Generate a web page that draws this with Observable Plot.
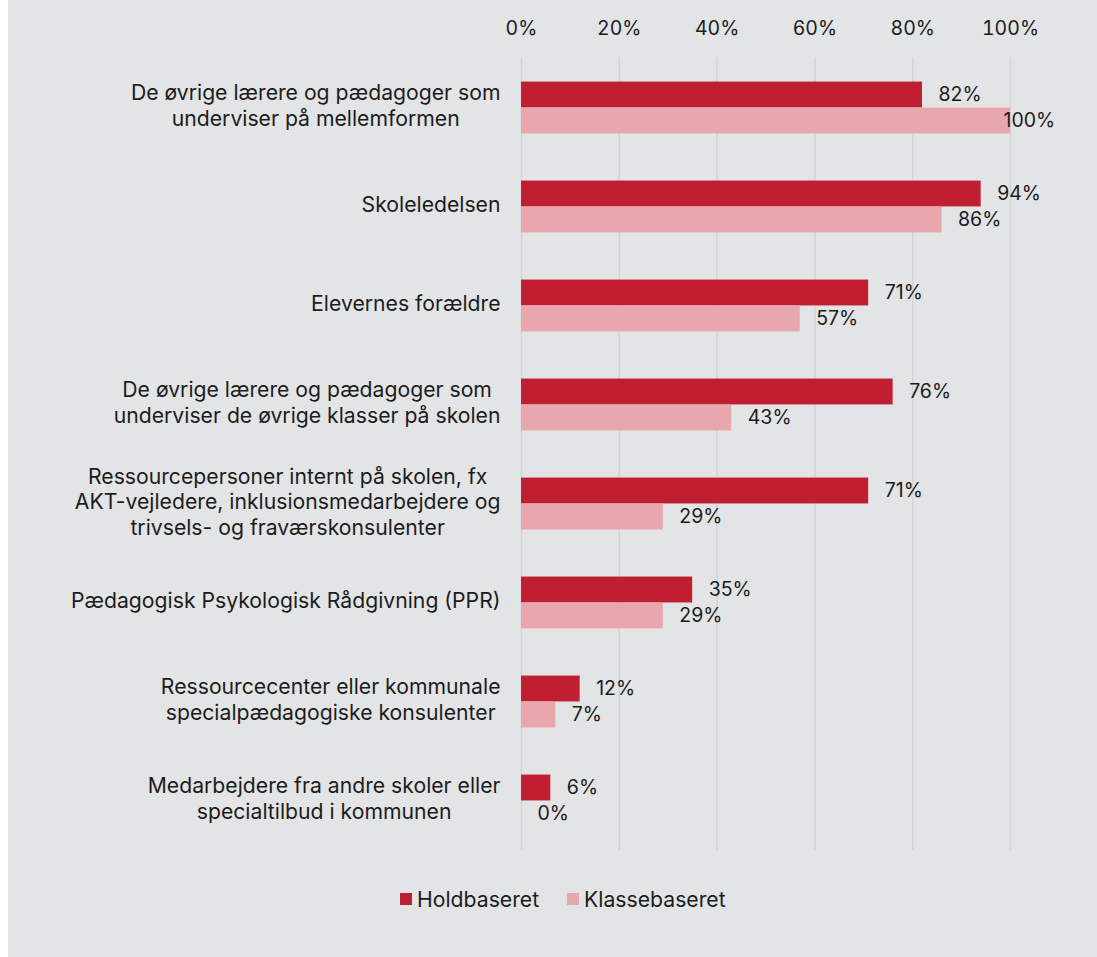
<!DOCTYPE html>
<html>
<head>
<meta charset="utf-8">
<script src="https://cdn.jsdelivr.net/npm/d3@7"></script>
<script src="https://cdn.jsdelivr.net/npm/@observablehq/plot@0.6"></script>
<style>
  html, body { margin: 0; padding: 0; background: #ffffff; }
  #panel { position: absolute; left: 8px; top: 0; width: 1089px; height: 957px; background: #e3e4e6; font-family: Inter, "Noto Sans", sans-serif; color: #1c1c1c; }
  #chart { position: absolute; left: 0; top: 0; }
  #legend { position: absolute; top: 886px; left: 392px; display: flex; align-items: center; font-size: 21.2px; }
  .item { display: flex; align-items: center; margin-right: 28px; }
  .sw { width: 12px; height: 12px; margin-right: 5px; }
</style>
</head>
<body>
<div id="panel">
  <div id="chart"></div>
  <div id="legend"></div>
</div>
<script>
const categories = [
  "De øvrige lærere og pædagoger som\nunderviser på mellemformen",
  "Skoleledelsen",
  "Elevernes forældre",
  "De øvrige lærere og pædagoger som\nunderviser de øvrige klasser på skolen",
  "Ressourcepersoner internt på skolen, fx\nAKT-vejledere, inklusionsmedarbejdere og\ntrivsels- og fraværskonsulenter",
  "Pædagogisk Psykologisk Rådgivning (PPR)",
  "Ressourcecenter eller kommunale\nspecialpædagogiske konsulenter",
  "Medarbejdere fra andre skoler eller\nspecialtilbud i kommunen"
];
const holdbaseret = [82, 94, 71, 76, 71, 35, 12, 6];
const klassebaseret = [100, 86, 57, 43, 29, 29, 7, 0];
const seriesNames = ["Holdbaseret", "Klassebaseret"];
const seriesColors = ["#c01f32", "#e8a7ac"];
const xTicks = [0, 20, 40, 60, 80, 100];

const holdRows = categories.map((c, i) => ({category: c, value: holdbaseret[i]}));
const klasseRows = categories.map((c, i) => ({category: c, value: klassebaseret[i]}));

const width = 1089, height = 870, marginTop = 57, marginBottom = 20, marginLeft = 513, marginRight = 87;
const band = (height - marginTop - marginBottom) / categories.length;
const barH = 26;
const fmt = d => d + "%";
const numSize = 19.5;
const labSize = 21.2;

const chart = Plot.plot({
  width, height, marginTop, marginBottom, marginLeft, marginRight,
  style: {background: "transparent", fontFamily: "Inter, 'Noto Sans', sans-serif", fontSize: "19px", color: "#1c1c1c", overflow: "visible"},
  x: {domain: [0, 100]},
  y: {domain: categories, padding: 0},
  marks: [
    Plot.gridX(xTicks, {stroke: "#d3d4d6", strokeOpacity: 1, strokeWidth: 1.5}),
    Plot.axisX(xTicks, {anchor: "top", tickSize: 0, tickPadding: 23, tickFormat: fmt, label: null, fontSize: numSize}),
    Plot.axisY({tickSize: 0, tickPadding: 21, label: null, lineHeight: 1.2, fontSize: labSize, dy: -3}),
    Plot.barX(holdRows, {x: "value", y: "category", fill: seriesColors[0], insetTop: band / 2 - barH, insetBottom: band / 2}),
    Plot.barX(klasseRows, {x: "value", y: "category", fill: seriesColors[1], insetTop: band / 2, insetBottom: band / 2 - barH}),
    Plot.text(holdRows, {x: "value", y: "category", text: d => fmt(d.value), dy: -barH / 2, dx: 16, textAnchor: "start", fontSize: numSize, fill: "#1c1c1c"}),
    Plot.text(klasseRows.filter(d => d.value < 100), {x: "value", y: "category", text: d => fmt(d.value), dy: barH / 2, dx: 16, textAnchor: "start", fontSize: numSize, fill: "#1c1c1c"}),
    Plot.text(klasseRows.filter(d => d.value >= 100), {x: "value", y: "category", text: d => fmt(d.value), dy: barH / 2, dx: -7, textAnchor: "start", fontSize: numSize, fill: "#1c1c1c"})
  ]
});
document.getElementById("chart").appendChild(chart);

// Center multi-line y labels within their block (right edge kept at the axis padding)
const yg = chart.querySelector('g[aria-label="y-axis tick label"]');
if (yg) {
  yg.querySelectorAll("text").forEach(t => {
    const spans = t.querySelectorAll("tspan");
    if (spans.length > 1) {
      const w = t.getBBox().width;
      t.setAttribute("text-anchor", "middle");
      spans.forEach(s => s.setAttribute("x", -w / 2));
    }
  });
}

const legend = document.getElementById("legend");
seriesNames.forEach((name, i) => {
  const item = document.createElement("div");
  item.className = "item";
  const sw = document.createElement("div");
  sw.className = "sw";
  sw.style.background = seriesColors[i];
  const lab = document.createElement("span");
  lab.textContent = name;
  item.appendChild(sw);
  item.appendChild(lab);
  legend.appendChild(item);
});
</script>
</body>
</html>
